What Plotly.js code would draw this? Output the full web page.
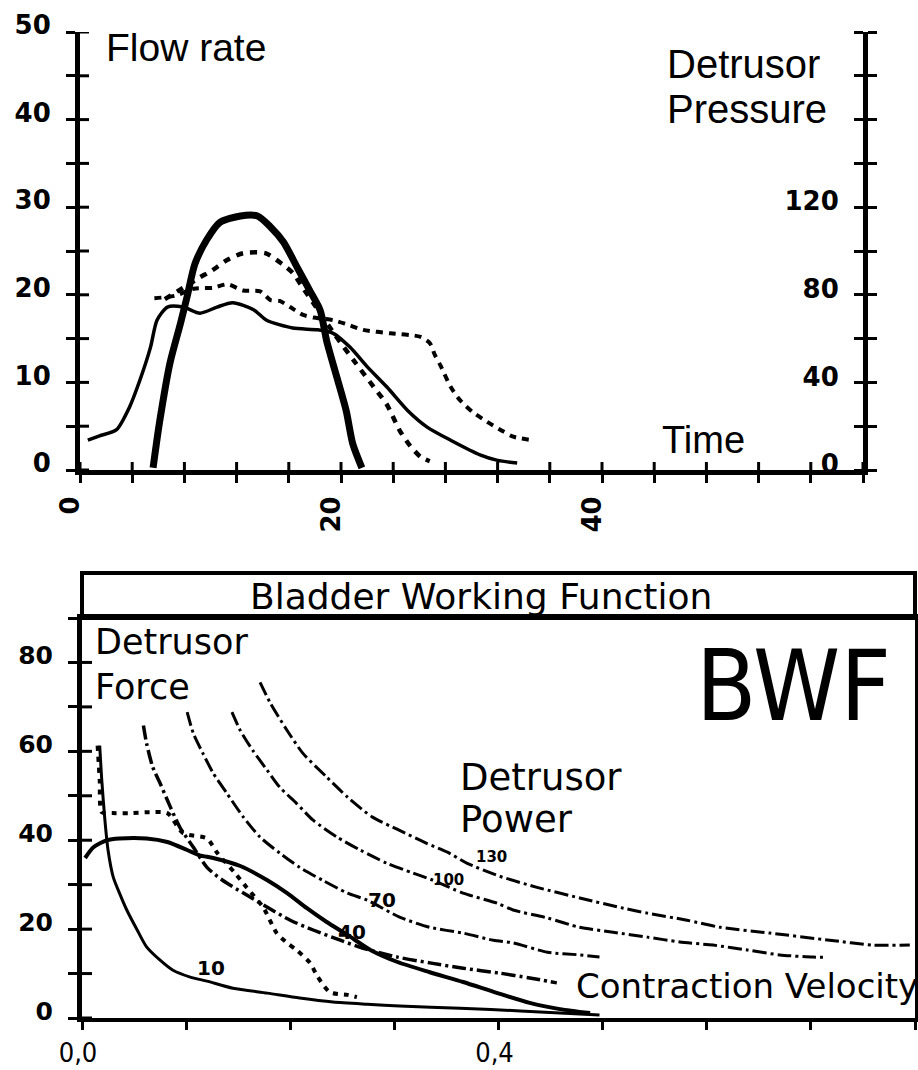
<!DOCTYPE html>
<html>
<head>
<meta charset="utf-8">
<script src="https://cdn.plot.ly/plotly-3.0.1.min.js"></script>
<style>
  html, body { margin: 0; padding: 0; background: #ffffff; }
  #chart { width: 918px; height: 1070px; }
</style>
</head>
<body>
<div id="chart"></div>
<script>
// ---------------- Top panel: uroflow / detrusor pressure vs time ----------------
// Thin solid curve: flow rate (ml/s) read on the left axis
const flowTime = [0.6, 1.5, 2.8, 3.8, 4.6, 5.4, 5.9, 6.7, 7.9, 9.2, 10.5, 11.7, 13.3, 14.3, 16.3, 18.2, 19.4, 20.7, 22.0, 23.5, 25.1, 26.6, 28.4, 30.7, 32.0, 33.5];
const flowRate = [3.4, 3.9, 4.6, 7.2, 10.3, 14.0, 17.1, 18.6, 18.6, 17.9, 18.6, 19.1, 18.3, 17.1, 16.2, 16.0, 15.6, 14.0, 11.8, 9.5, 6.8, 4.9, 3.4, 1.7, 1.1, 0.8];

// Dashed curve with long plateau: second flow trace (left axis)
const flow2Time = [5.7, 7.3, 8.7, 10.2, 11.3, 12.5, 13.8, 14.6, 15.3, 16.1, 17.1, 17.9, 19.4, 20.5, 21.7, 23.8, 26.1, 26.8, 27.2, 27.6, 28.4, 29.1, 30.1, 31.2, 32.2, 33.2, 34.7];
const flow2Rate = [19.6, 19.9, 20.7, 20.8, 21.2, 20.5, 20.4, 19.4, 19.3, 18.6, 17.7, 17.4, 17.1, 16.6, 16.0, 15.6, 15.2, 14.5, 13.1, 12.0, 9.5, 8.0, 6.6, 5.5, 4.6, 3.8, 3.4];

// Thick solid curve: detrusor pressure (cmH2O) read on the right axis
const pressTime = [5.6, 6.1, 6.9, 7.7, 8.2, 8.8, 9.7, 10.7, 12.3, 13.6, 14.6, 15.6, 16.6, 17.6, 18.4, 18.9, 19.7, 20.4, 20.9, 21.6];
const pressValue = [1, 22, 49, 67, 79, 94, 105, 113, 116, 116, 111, 104, 93, 82, 73, 59, 42, 27, 12, 1];

// Dotted curve peaking higher: second pressure trace (right axis)
const press2Time = [6.5, 8.4, 9.2, 10.1, 11.3, 12.5, 14.2, 15.5, 16.3, 17.1, 17.9, 19.5, 21.1, 22.5, 23.5, 24.5, 25.3, 26.1, 26.8];
const press2Value = [78, 85, 88, 91, 96, 99, 99, 94, 90, 83, 76, 62, 49, 38, 30, 18, 11, 6, 4];

const timeTickVals = [0, 4, 8, 12, 16, 20, 24, 28, 32, 36, 40, 44, 48, 52, 56, 60];
const timeTickText = ['0', '', '', '', '', '20', '', '', '', '', '40', '', '', '', '', ''];
const flowTickVals = [0, 5, 10, 15, 20, 25, 30, 35, 40, 45, 50];
const flowTickText = ['0', '', '10', '', '20', '', '30', '', '40', '', '50'];
const pressTickVals = [0, 20, 40, 60, 80, 100, 120, 140, 160, 180, 200];
const pressTickText = ['0', '', '40', '', '80', '', '120', '', '', '', ''];

// ---------------- Bottom panel: Bladder Working Function ----------------
const powerLevels = [10, 40, 70, 100, 130];

const p10Vel = [0.017, 0.019, 0.022, 0.025, 0.030, 0.036, 0.043, 0.053, 0.062, 0.075, 0.087, 0.104, 0.120, 0.145, 0.178, 0.209, 0.241, 0.274, 0.305, 0.363, 0.421, 0.497];
const p10Force = [61.3, 53.5, 44.5, 37.8, 31.7, 28.1, 24.3, 19.8, 16.0, 13.0, 10.8, 9.2, 8.3, 6.7, 5.6, 4.5, 3.6, 3.1, 2.7, 2.2, 1.6, 0.7];

const p40Vel = [0.059, 0.062, 0.068, 0.075, 0.085, 0.094, 0.107, 0.120, 0.135, 0.155, 0.178, 0.200, 0.222, 0.248, 0.270, 0.303, 0.334, 0.366, 0.401, 0.430, 0.456];
const p40Force = [65.8, 61.8, 56.4, 52.8, 47.4, 42.9, 38.4, 33.9, 31.0, 28.1, 24.9, 22.0, 19.8, 17.5, 15.7, 13.7, 12.4, 11.2, 10.1, 9.0, 7.9];

const p70Vel = [0.101, 0.107, 0.116, 0.126, 0.139, 0.155, 0.171, 0.190, 0.209, 0.231, 0.255, 0.274, 0.305, 0.334, 0.366, 0.395, 0.414, 0.447, 0.478, 0.497];
const p70Force = [68.8, 64.0, 59.6, 55.1, 50.6, 45.2, 40.7, 37.1, 33.9, 31.0, 28.1, 26.5, 22.7, 20.4, 19.1, 17.5, 16.9, 14.8, 14.2, 13.7];

const p100Vel = [0.144, 0.152, 0.164, 0.178, 0.190, 0.206, 0.222, 0.245, 0.267, 0.293, 0.318, 0.337, 0.366, 0.399, 0.414, 0.447, 0.478, 0.510, 0.543, 0.574, 0.606, 0.639, 0.670, 0.702, 0.715];
const p100Force = [68.8, 64.7, 60.2, 55.7, 51.9, 48.3, 44.5, 40.7, 37.8, 34.8, 32.6, 31.0, 28.1, 25.8, 24.3, 22.5, 20.4, 19.3, 18.2, 17.1, 16.4, 15.3, 14.2, 13.7, 13.7];

const p130Vel = [0.171, 0.181, 0.197, 0.212, 0.235, 0.255, 0.279, 0.305, 0.331, 0.351, 0.370, 0.401, 0.437, 0.478, 0.520, 0.543, 0.581, 0.613, 0.661, 0.718, 0.760, 0.795];
const p130Force = [75.5, 70.8, 64.7, 59.6, 54.2, 49.7, 45.2, 42.2, 39.3, 37.3, 34.8, 31.9, 29.4, 27.0, 24.7, 23.6, 22.0, 20.4, 19.1, 17.5, 16.4, 16.4];

// Measured working curves
const bwfSolidVel = [0.003, 0.011, 0.024, 0.036, 0.062, 0.082, 0.101, 0.113, 0.126, 0.152, 0.178, 0.197, 0.216, 0.235, 0.255, 0.277, 0.303, 0.334, 0.366, 0.399, 0.430, 0.459, 0.488];
const bwfSolidForce = [36.0, 38.4, 40.0, 40.4, 40.4, 39.6, 37.8, 36.6, 36.0, 34.2, 31.0, 28.1, 24.7, 21.6, 18.7, 15.3, 12.6, 10.3, 8.1, 5.6, 3.4, 2.0, 1.1];

const bwfDotVel = [0.015, 0.017, 0.019, 0.029, 0.046, 0.065, 0.082, 0.097, 0.120, 0.130, 0.147, 0.158, 0.174, 0.187, 0.197, 0.206, 0.219, 0.226, 0.238, 0.255, 0.264];
const bwfDotForce = [61.3, 53.5, 46.3, 46.1, 46.1, 46.3, 46.1, 41.6, 40.4, 37.1, 32.6, 29.4, 24.9, 19.1, 16.9, 15.3, 12.4, 9.4, 5.8, 5.2, 4.7];

const forceTickVals = [0, 10, 20, 30, 40, 50, 60, 70, 80, 90];
const forceTickText = ['0', '', '20', '', '40', '', '60', '', '80', ''];
const velTickVals = [0, 0.1, 0.2, 0.3, 0.4, 0.5, 0.6, 0.7, 0.8];
const velTickText = ['0,0', '', '', '', '0,4', '', '', '', ''];

// ---------------- Styling / layout ----------------
const BLACK = '#000000';
const CLEAR = 'rgba(0,0,0,0)';
const W = 918, H = 1070;
const px = v => v / W;
const py = v => 1 - v / H;

const topX = [px(80), px(863)];
const topY = [py(470), py(32)];
const botX = [px(82), px(915)];
const botY = [py(1018), py(618)];

const tickFontBold = { family: 'DejaVu Sans', size: 26, color: BLACK, weight: 'bold' };

function line(x, y, xa, ya, width, dash, name) {
  return {
    type: 'scatter', mode: 'lines', x: x, y: y, xaxis: xa, yaxis: ya, name: name,
    line: { color: BLACK, width: width, dash: dash, shape: 'spline', smoothing: 0.7 },
    hoverinfo: 'skip', showlegend: false
  };
}
function ghost(x, y, xa, ya) {
  return { type: 'scatter', mode: 'lines', x: x, y: y, xaxis: xa, yaxis: ya,
    line: { color: CLEAR, width: 0.1 }, hoverinfo: 'skip', showlegend: false };
}

const isoDash = '14px,4px,3px,4px';
const traces = [
  line(flowTime, flowRate, 'x', 'y', 3.5, 'solid', 'Flow rate'),
  line(flow2Time, flow2Rate, 'x', 'y', 4, '7px,6px', 'Flow rate 2'),
  line(pressTime, pressValue, 'x', 'y2', 7, 'solid', 'Detrusor pressure'),
  line(press2Time, press2Value, 'x', 'y2', 4.5, '7px,7px', 'Detrusor pressure 2'),
  line(p10Vel, p10Force, 'x2', 'y3', 3, 'solid', 'W=10'),
  line(p40Vel, p40Force, 'x2', 'y3', 3.5, isoDash, 'W=40'),
  line(p70Vel, p70Force, 'x2', 'y3', 3, isoDash, 'W=70'),
  line(p100Vel, p100Force, 'x2', 'y3', 3, isoDash, 'W=100'),
  line(p130Vel, p130Force, 'x2', 'y3', 3, isoDash, 'W=130'),
  line(bwfSolidVel, bwfSolidForce, 'x2', 'y3', 4, 'solid', 'BWF measured'),
  line(bwfDotVel, bwfDotForce, 'x2', 'y3', 4, '5px,6px', 'BWF computed'),
  ghost(pressTime, pressValue, 'x', 'y5')
];

const baseAxis = { showgrid: false, zeroline: false, fixedrange: true, color: BLACK };

const layout = {
  width: W, height: H,
  margin: { l: 0, r: 0, t: 0, b: 0 },
  paper_bgcolor: '#ffffff', plot_bgcolor: CLEAR,
  showlegend: false,
  font: { family: 'DejaVu Sans', color: BLACK },
  // ---- top panel ----
  xaxis: Object.assign({}, baseAxis, {
    domain: topX, anchor: 'y', range: [0, 60],
    showline: true, linewidth: 5, linecolor: BLACK,
    tickmode: 'array', tickvals: timeTickVals, ticktext: timeTickText,
    ticks: 'outside', ticklen: 8, tickwidth: 3, tickcolor: BLACK,
    tickangle: -90, tickfont: tickFontBold, ticklabelstandoff: 3, ticklabelshift: -9
  }),
  yaxis: Object.assign({}, baseAxis, {
    domain: topY, anchor: 'x', range: [0, 50],
    showline: true, linewidth: 5, linecolor: BLACK,
    tickmode: 'array', tickvals: flowTickVals, ticktext: flowTickText,
    ticks: 'outside', ticklen: 9, tickwidth: 3, tickcolor: BLACK,
    tickfont: tickFontBold, ticklabelstandoff: 10, ticklabelshift: -7
  }),
  // pressure axis: drawn at the right edge, labels on its left
  yaxis2: Object.assign({}, baseAxis, {
    domain: topY, anchor: 'free', position: topX[1], overlaying: 'y', side: 'left', range: [0, 200],
    showline: false,
    tickmode: 'array', tickvals: pressTickVals, ticktext: pressTickText,
    ticks: 'outside', ticklen: 9, tickwidth: 3, tickcolor: BLACK,
    tickfont: tickFontBold, ticklabelstandoff: 10, ticklabelshift: -6
  }),
  yaxis5: Object.assign({}, baseAxis, {
    domain: topY, anchor: 'x', overlaying: 'y', side: 'right', range: [0, 200],
    showline: true, linewidth: 5, linecolor: BLACK, showticklabels: false,
    tickmode: 'array', tickvals: pressTickVals, ticks: 'outside', ticklen: 9, tickwidth: 3, tickcolor: BLACK
  }),
  // ---- bottom panel ----
  xaxis2: Object.assign({}, baseAxis, {
    domain: botX, anchor: 'y3', range: [0, 0.8],
    showline: true, mirror: true, linewidth: 4, linecolor: BLACK,
    tickmode: 'array', tickvals: velTickVals, ticktext: velTickText,
    ticks: 'outside', ticklen: 8, tickwidth: 3, tickcolor: BLACK,
    tickfont: { family: 'Liberation Sans Narrow, DejaVu Sans Condensed, Liberation Sans', size: 27, color: BLACK },
    ticklabelstandoff: 0, ticklabelshift: -4
  }),
  yaxis3: Object.assign({}, baseAxis, {
    domain: botY, anchor: 'x2', range: [0, 90],
    showline: true, mirror: true, linewidth: 5, linecolor: BLACK,
    tickmode: 'array', tickvals: forceTickVals, ticktext: forceTickText,
    ticks: 'outside', ticklen: 9, tickwidth: 3, tickcolor: BLACK,
    tickfont: { family: 'DejaVu Sans', size: 25, color: BLACK, weight: 'bold' },
    ticklabelstandoff: 10, ticklabelshift: -7
  }),
  shapes: [
    { type: 'rect', xref: 'paper', yref: 'paper', x0: botX[0], x1: botX[1], y0: botY[1], y1: py(573),
      line: { color: BLACK, width: 4 }, fillcolor: CLEAR }
  ],
  annotations: []
};

// inner halves of the cross-shaped tick marks (reference ticks cross the axis lines)
function innerTicksX(vals, xref, yAnchor, len) {
  vals.forEach(v => layout.shapes.push({
    type: 'line', xref: xref, yref: 'paper', x0: v, x1: v,
    ysizemode: 'pixel', yanchor: yAnchor, y0: 0, y1: len,
    line: { color: BLACK, width: 3 }
  }));
}
function innerTicksY(vals, yref, xAnchor, len) {
  vals.forEach(v => layout.shapes.push({
    type: 'line', xref: 'paper', yref: yref, y0: v, y1: v,
    xsizemode: 'pixel', xanchor: xAnchor, x0: 0, x1: len,
    line: { color: BLACK, width: 3 }
  }));
}
innerTicksX(timeTickVals, 'x', topY[0], 8);
innerTicksY(flowTickVals, 'y', topX[0], 9);
innerTicksY(forceTickVals, 'y3', botX[0], 10);

function txt(text, x, y, size, family, anchor) {
  return {
    text: text, xref: 'paper', yref: 'paper', x: x, y: y,
    xanchor: anchor || 'left', yanchor: 'middle', showarrow: false,
    font: { family: family, size: size, color: BLACK }
  };
}

const SANS_TOP = 'Liberation Sans';
const SANS_BOT = 'DejaVu Sans';
const NARROW = 'Liberation Sans Narrow, DejaVu Sans Condensed, Liberation Sans';
layout.annotations.push(
  txt('Flow rate', px(104), py(47.5), 39, SANS_TOP),
  txt('Detrusor', px(665), py(63.5), 40, SANS_TOP),
  txt('Pressure', px(665), py(109), 40, SANS_TOP),
  txt('Time', px(660), py(440), 38, SANS_TOP),
  txt('Bladder Working Function', px(481), py(596), 36, SANS_BOT, 'center'),
  txt('Detrusor', px(93), py(641.5), 35, SANS_BOT),
  txt('Force', px(93), py(686.5), 35, SANS_BOT),
  txt('BWF', px(793), py(686), 98, NARROW, 'center'),
  txt('Detrusor', px(458), py(777.5), 37, SANS_BOT),
  txt('Power', px(458), py(819), 37, SANS_BOT),
  txt('Contraction Velocity', px(574), py(985.5), 34, SANS_BOT)
);

// iso-power labels attached to a point on each curve
const isoCurves = [
  { v: p10Vel, f: p10Force, i: 12, dx: 4, dy: 13, size: 20 },
  { v: p40Vel, f: p40Force, i: 13, dx: 12, dy: 8, size: 20 },
  { v: p70Vel, f: p70Force, i: 11, dx: 15, dy: 0, size: 20 },
  { v: p100Vel, f: p100Force, i: 11, dx: 16, dy: 0, size: 15 },
  { v: p130Vel, f: p130Force, i: 10, dx: 24, dy: 6, size: 15 }
];
isoCurves.forEach((c, k) => {
  layout.annotations.push({
    text: String(powerLevels[k]), xref: 'x2', yref: 'y3',
    x: c.v[c.i], y: c.f[c.i], xshift: c.dx, yshift: c.dy,
    showarrow: false, xanchor: 'center', yanchor: 'middle',
    font: { family: 'DejaVu Sans', size: c.size, color: BLACK, weight: 'bold' }
  });
});

Plotly.newPlot('chart', traces, layout, { staticPlot: true, displayModeBar: false });
</script>
</body>
</html>
